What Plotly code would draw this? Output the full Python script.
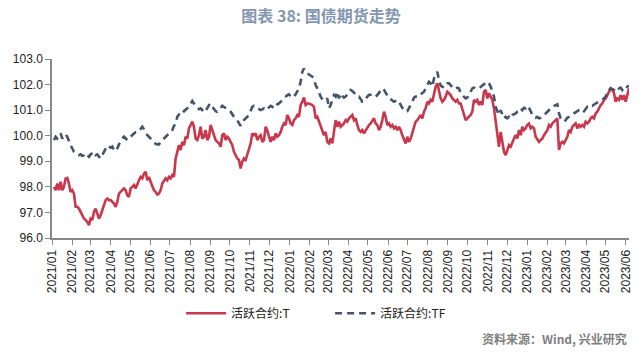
import pandas as pd
import plotly.graph_objects as go

# Active contract prices (uniformly spaced in time)
t_values = [
    98.00, 97.87, 98.13, 97.87, 98.20, 97.87, 98.00, 98.33, 98.35, 98.13, 97.80, 97.87, 97.74,
    97.22, 97.22, 97.15, 97.02, 96.89, 96.76, 96.70, 96.63, 96.50, 96.76, 96.70, 97.02, 97.15,
    96.96, 96.76, 96.89, 97.09, 97.28, 97.48, 97.54, 97.48, 97.48, 97.41, 97.35, 97.22, 97.41,
    97.74, 97.80, 97.87, 97.94, 97.87, 97.67, 97.61, 97.94, 98.00, 98.07, 97.94, 98.13, 98.26,
    98.39, 98.33, 98.52, 98.59, 98.26, 98.39, 98.20, 98.00, 97.87, 97.80, 97.70, 97.74, 97.87,
    98.13, 98.26, 98.33, 98.26, 98.39, 98.33, 98.46, 98.39, 99.11, 99.37, 99.63, 99.44, 99.76,
    99.63, 99.96, 99.89, 100.29, 100.42, 100.55, 100.35, 99.89, 99.83, 100.02, 100.35, 99.89,
    99.96, 100.22, 99.83, 99.96, 100.42, 100.22, 100.02, 99.83, 99.76, 99.70, 99.57, 100.02,
    100.09, 99.83, 99.96, 99.89, 99.76, 99.63, 99.37, 99.24, 99.11, 99.05, 98.72, 98.98, 99.11,
    # segment 2
    99.05, 99.24, 99.44, 99.70, 100.09, 100.02, 100.09, 99.83, 99.96, 100.02, 99.76, 99.83,
    100.35, 100.22, 99.96, 99.76, 99.96, 99.83, 100.09, 99.96, 100.02, 100.15, 100.35, 100.48,
    100.42, 100.81, 100.68, 100.48, 100.42, 100.61, 100.68, 100.81, 100.74, 101.20, 101.33,
    101.49, 101.20, 101.26, 101.26, 101.23, 101.20, 101.13, 100.68, 100.74, 100.55, 100.35,
    100.22, 100.02, 100.15, 99.76, 99.70, 99.89, 99.70, 100.22, 100.61, 100.35, 100.55, 100.35,
    100.42, 100.48, 100.61, 100.55, 100.68, 100.74, 100.81, 100.61, 100.68, 100.42, 100.22,
    100.15, 100.22, 100.09, 100.22, 100.35, 100.42, 100.48, 100.61, 100.68, 100.48, 100.42,
    100.22, 100.35, 100.61, 100.94, 100.74, 100.42, 100.48, 100.35, 100.42, 100.29, 100.35,
    100.22, 100.35, 100.22, 100.02, 99.83, 99.70, 99.96, 99.76, 99.89, 100.09, 100.35, 100.55,
    100.61, 100.74, 100.81, 100.68, 100.94, 101.07, 101.33, 101.26, 101.40, 101.33, 101.66,
    101.92, 102.05, 101.79,
    # segment 3
    101.46, 101.33, 101.40, 101.53, 101.72, 101.66, 101.59, 101.46, 101.40, 101.33, 101.40,
    101.26, 101.26, 101.07, 100.87, 100.61, 100.68, 100.74, 100.81, 100.94, 101.40, 101.33,
    101.40, 101.20, 101.33, 101.20, 101.72, 101.79, 101.46, 101.66, 101.53, 101.40, 101.07,
    100.55, 100.02, 99.57, 100.15, 99.70, 99.37, 99.24, 99.44, 99.63, 99.57, 99.76, 99.89,
    100.02, 99.89, 100.22, 100.02, 100.35, 100.22, 100.29, 100.42, 100.48, 100.29, 100.35,
    100.29, 99.96, 99.83, 99.76, 99.83, 99.89, 100.02, 100.15, 100.22, 100.42, 100.35, 100.48,
    100.55, 100.61, 100.68, 99.44, 99.70, 99.76, 99.70, 99.83, 99.96, 100.22, 100.15, 100.35,
    100.42, 100.48, 100.29, 100.42, 100.35, 100.42, 100.35, 100.55, 100.48, 100.55, 100.68,
    100.74, 100.68, 100.87, 100.94, 101.07, 101.20, 101.26, 101.40, 101.46, 101.59, 101.72,
    101.85, 101.79, 101.66, 101.33, 101.46, 101.40, 101.59, 101.40, 101.59, 101.33, 101.66,
    101.85,
]

tf_values = [
    99.83, 99.96, 99.89, 100.02, 100.09, 99.89, 99.96, 100.06, 99.96, 99.76, 99.63, 99.50, 99.37,
    99.31, 99.28, 99.24, 99.27, 99.21, 99.24, 99.31, 99.24, 99.18, 99.27, 99.31, 99.37, 99.24,
    99.27, 99.18, 99.11, 99.24, 99.37, 99.50, 99.61, 99.57, 99.53, 99.57, 99.44, 99.40, 99.50,
    99.66, 99.79, 99.89, 99.96, 99.89, 99.83, 99.89, 99.96, 100.05, 100.09, 100.13, 100.13,
    100.18, 100.29, 100.35, 100.26, 100.13, 100.02, 99.96, 99.89, 99.79, 99.74, 99.68, 99.66,
    99.66, 99.76, 99.83, 99.89, 99.96, 100.05, 100.09, 100.13, 100.22, 100.38, 100.48, 100.74,
    100.83, 100.87, 100.83, 100.96, 101.00, 101.07, 101.13, 101.26, 101.36, 101.26, 101.17,
    101.09, 101.04, 101.07, 101.00, 100.91, 101.00, 101.07, 101.20, 101.26, 101.13, 101.04,
    100.96, 100.94, 101.00, 101.09, 101.17, 101.13, 101.09, 101.07, 101.00, 100.94, 100.81,
    100.74, 100.68, 100.61, 100.48, 100.39, 100.55, 100.61,
    # segment 2
    100.65, 100.74, 100.81, 101.00, 101.13, 101.17, 101.13, 101.07, 101.04, 101.00, 101.03,
    101.07, 101.00, 101.07, 101.13, 101.17, 101.13, 101.07, 101.13, 101.23, 101.26, 101.33,
    101.40, 101.46, 101.53, 101.59, 101.62, 101.53, 101.49, 101.53, 101.62, 101.72, 101.85,
    102.11, 102.50, 102.63, 102.50, 102.44, 102.40, 102.37, 102.31, 102.24, 101.98, 101.85,
    101.66, 101.53, 101.43, 101.36, 101.40, 101.46, 101.07, 101.20, 101.40, 101.59, 101.53,
    101.72, 101.46, 101.66, 101.56, 101.49, 101.53, 101.62, 101.72, 101.79, 101.75, 101.66,
    101.62, 101.53, 101.53, 101.43, 101.33, 101.33, 101.46, 101.53, 101.59, 101.62, 101.62,
    101.59, 101.53, 101.59, 101.69, 101.75, 101.85, 101.79, 101.66, 101.53, 101.46, 101.43,
    101.36, 101.33, 101.36, 101.40, 101.33, 101.20, 101.09, 101.04, 100.94, 100.96, 101.07,
    101.23, 101.33, 101.49, 101.53, 101.53, 101.53, 101.62, 101.66, 101.72, 101.85, 102.01,
    102.11, 102.05, 101.92, 102.24, 102.40, 102.50, 102.18,
    # segment 3
    101.96, 101.92, 101.88, 101.98, 102.05, 102.05, 101.98, 101.88, 101.83, 101.85, 101.88,
    101.85, 101.66, 101.59, 101.53, 101.46, 101.49, 101.59, 101.72, 101.85, 101.88, 101.85,
    101.83, 101.85, 101.92, 101.96, 102.01, 102.09, 102.11, 102.05, 101.92, 101.72, 101.53,
    101.13, 101.00, 100.81, 101.00, 100.81, 100.68, 100.74, 100.68, 100.74, 100.68, 100.81,
    100.83, 100.87, 100.94, 100.96, 101.07, 101.00, 101.09, 101.07, 101.17, 101.09, 100.96,
    100.81, 100.74, 100.70, 100.74, 100.68, 100.70, 100.74, 100.81, 100.87, 100.94, 101.00,
    101.07, 101.13, 101.17, 101.20, 101.23, 100.87, 100.68, 100.61, 100.55, 100.61, 100.70,
    100.74, 100.81, 100.83, 100.87, 100.91, 100.96, 101.00, 101.00, 101.04, 100.96, 101.04,
    101.13, 101.13, 101.20, 101.17, 101.23, 101.26, 101.30, 101.33, 101.36, 101.40, 101.46,
    101.53, 101.66, 101.79, 101.85, 101.83, 101.79, 101.88, 101.92, 101.85, 101.88, 101.79,
    101.88, 101.83, 101.92, 101.96,
]

dates = pd.date_range("2021-01-04", "2023-06-06", periods=len(t_values))
tick_dates = pd.date_range("2021-01-01", "2023-06-01", freq="MS")
tick_labels = [d.strftime("%Y/%m") for d in tick_dates]
y_ticks = [96, 97, 98, 99, 100, 101, 102, 103]

title_text = "图表 38: 国债期货走势"
source_text = "资料来源：Wind, 兴业研究"
name_t = "活跃合约:T"
name_tf = "活跃合约:TF"

fig = go.Figure()
fig.add_trace(go.Scatter(x=dates, y=t_values, mode="lines", name=name_t,
                         line=dict(color="#C8374B", width=2.6)))
fig.add_trace(go.Scatter(x=dates, y=tf_values, mode="lines", name=name_tf,
                         line=dict(color="#44546A", width=2.6, dash="7px,5px")))

fig.update_layout(
    width=642, height=354,
    margin=dict(l=52, r=13, t=59, b=116, autoexpand=False),
    paper_bgcolor="white", plot_bgcolor="white",
    title=dict(text="<b>" + title_text + "</b>", x=0.5, xanchor="center", y=0.955, yanchor="middle",
               font=dict(family="Noto Sans CJK SC", size=16, color="#8497B0")),
    showlegend=True,
    legend=dict(orientation="h", x=0.482, xanchor="center", y=-0.42, yanchor="middle",
                font=dict(family="Noto Sans CJK SC", size=12, color="#222222"),
                itemwidth=40, entrywidth=94, entrywidthmode="pixels",
                tracegroupgap=0, bgcolor="rgba(0,0,0,0)"),
    annotations=[dict(text="<b>" + source_text + "</b>", xref="paper", yref="paper",
                      x=1.0, xanchor="right", y=-0.56, yanchor="middle", showarrow=False,
                      font=dict(family="Noto Sans CJK SC", size=12, color="#7F7F7F"))],
)

fig.update_xaxes(
    type="date", range=["2021-01-01", "2023-06-06"],
    tickmode="array", tickvals=tick_dates, ticktext=tick_labels, tickangle=-90,
    ticks="outside", ticklen=5, tickcolor="#888888", tickwidth=1,
    showline=True, linecolor="#888888", linewidth=2, showgrid=False, zeroline=False,
    tickfont=dict(family="Liberation Sans", size=12, color="#222222"),
)
fig.update_yaxes(
    range=[96, 103], tickmode="array", tickvals=y_ticks, tickformat=".1f",
    ticks="outside", ticklen=5, tickcolor="#888888", tickwidth=1,
    showline=True, linecolor="#888888", linewidth=1.5, showgrid=False, zeroline=False,
    tickfont=dict(family="Liberation Sans", size=12, color="#222222"),
)

fig.write_html("out.html")
